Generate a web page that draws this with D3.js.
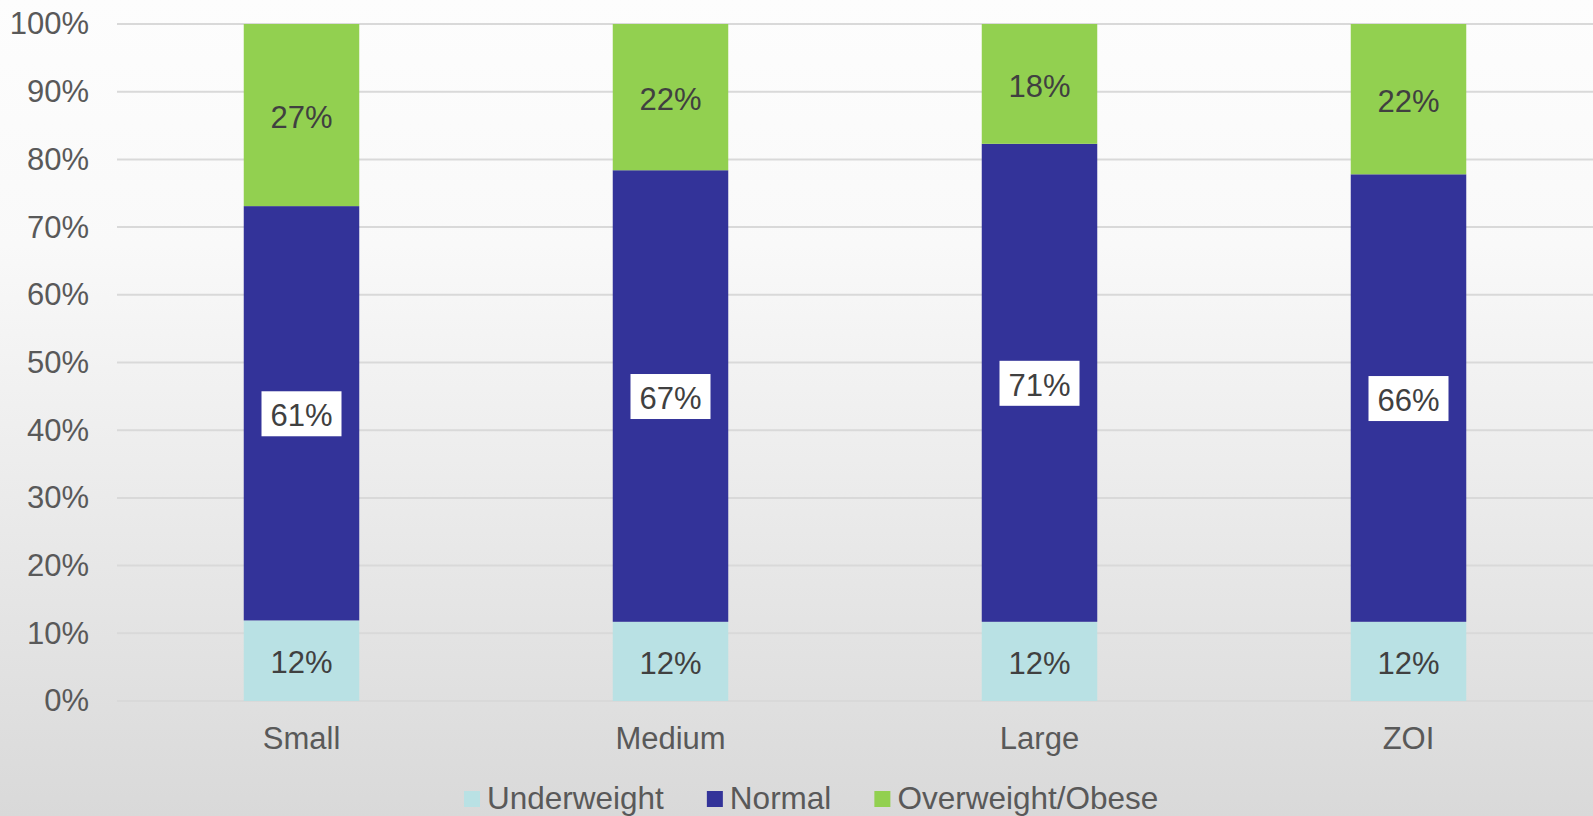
<!DOCTYPE html>
<html>
<head>
<meta charset="utf-8">
<script src="https://cdn.jsdelivr.net/npm/d3@7"></script>
<style>
  body { margin: 0; }
  svg { display: block; font-family: "Liberation Sans", Arial, sans-serif; }
</style>
</head>
<body>
<div id="chart"></div>
<script>
// data, in percent
const categories = ['Small', 'Medium', 'Large', 'ZOI'];
const seriesNames = ['Underweight', 'Normal', 'Overweight/Obese'];
const underweight = [11.9, 11.7, 11.7, 11.7];
const normal = [61.2, 66.7, 70.6, 66.1];
const overweight = [26.9, 21.6, 17.7, 22.2];
const yTicks = [0, 10, 20, 30, 40, 50, 60, 70, 80, 90, 100];

const colors = ['#b9e1e4', '#333399', '#92d050'];

const width = 1593;
const height = 816;
const plotLeft = 117, plotRight = 1593, plotTop = 24, plotBottom = 701;

const svg = d3.select('#chart')
  .append('svg')
  .attr('width', width)
  .attr('height', height);

// background gradient
const grad = svg.append('defs').append('linearGradient')
  .attr('id', 'bg')
  .attr('x1', 0).attr('y1', 0).attr('x2', 0).attr('y2', 1);
grad.append('stop').attr('offset', 0).attr('stop-color', '#fdfdfd');
grad.append('stop').attr('offset', 0.3).attr('stop-color', '#f9f9f9');
grad.append('stop').attr('offset', 1).attr('stop-color', '#d9d9d9');

svg.append('rect')
  .attr('width', width)
  .attr('height', height)
  .attr('fill', 'url(#bg)');

const rows = categories.map((c, i) => ({
  category: c,
  Underweight: underweight[i],
  Normal: normal[i],
  'Overweight/Obese': overweight[i]
}));

const stacked = d3.stack().keys(seriesNames)(rows);

const x = d3.scaleBand()
  .domain(categories)
  .range([plotLeft, plotRight])
  .paddingInner(0.687)
  .paddingOuter(0.3435);

const y = d3.scaleLinear()
  .domain([0, 100])
  .range([plotBottom, plotTop]);

// gridlines
svg.append('g')
  .selectAll('line')
  .data(yTicks)
  .enter()
  .append('line')
  .attr('x1', plotLeft)
  .attr('x2', plotRight)
  .attr('y1', d => y(d))
  .attr('y2', d => y(d))
  .attr('stroke', '#d9d9d9')
  .attr('stroke-width', 2);

// y axis labels
const yAxis = d3.axisLeft(y)
  .tickValues(yTicks)
  .tickFormat(d => d + '%')
  .tickSize(0)
  .tickPadding(28);

svg.append('g')
  .attr('transform', `translate(${plotLeft}, 0)`)
  .call(yAxis)
  .call(g => g.select('.domain').remove())
  .call(g => g.selectAll('text')
    .attr('font-size', 31)
    .attr('fill', '#595959')
    .attr('font-family', '"Liberation Sans", Arial, sans-serif'));

// x axis labels
const xAxis = d3.axisBottom(x).tickSize(0).tickPadding(26);

svg.append('g')
  .attr('transform', `translate(0, ${plotBottom})`)
  .call(xAxis)
  .call(g => g.select('.domain').remove())
  .call(g => g.selectAll('text')
    .attr('font-size', 31)
    .attr('fill', '#595959')
    .attr('font-family', '"Liberation Sans", Arial, sans-serif'));

// bars
const layers = svg.append('g')
  .selectAll('g')
  .data(stacked)
  .enter()
  .append('g')
  .attr('fill', (d, i) => colors[i]);

layers.selectAll('rect')
  .data(d => d)
  .enter()
  .append('rect')
  .attr('x', d => x(d.data.category))
  .attr('y', d => y(d[1]))
  .attr('width', x.bandwidth())
  .attr('height', d => y(d[0]) - y(d[1]));

// data labels
stacked.forEach((layer, li) => {
  const g = svg.append('g');
  layer.forEach(d => {
    const cx = x(d.data.category) + x.bandwidth() / 2;
    const cy = (y(d[0]) + y(d[1])) / 2;
    if (seriesNames[li] === 'Normal') {
      g.append('rect')
        .attr('x', cx - 40)
        .attr('y', cy - 22)
        .attr('width', 80)
        .attr('height', 45)
        .attr('fill', '#ffffff');
    }
    g.append('text')
      .attr('x', cx)
      .attr('y', cy)
      .attr('dy', '0.41em')
      .attr('text-anchor', 'middle')
      .attr('font-size', 31)
      .attr('fill', '#404040')
      .text(Math.round(d[1] - d[0]) + '%');
  });
});

// legend
const legend = svg.append('g')
  .attr('transform', 'translate(464, 0)');

let lx = 0;
seriesNames.forEach((name, i) => {
  legend.append('rect')
    .attr('x', lx)
    .attr('y', 791)
    .attr('width', 16)
    .attr('height', 16)
    .attr('fill', colors[i]);
  const t = legend.append('text')
    .attr('x', lx + 23)
    .attr('y', 809)
    .attr('font-size', 31.5)
    .attr('fill', '#595959')
    .text(name);
  lx += 23 + t.node().getComputedTextLength() + 43;
});
</script>
</body>
</html>
